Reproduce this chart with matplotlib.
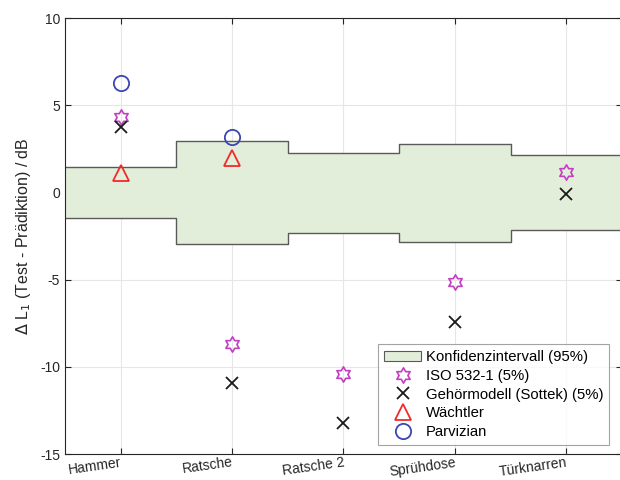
import numpy as np
import matplotlib
matplotlib.use("Agg")
import matplotlib.pyplot as plt
import matplotlib.transforms as mtransforms
from matplotlib.path import Path
from matplotlib.patches import Patch

plt.rcParams['font.family'] = ['Liberation Sans', 'DejaVu Sans']
plt.rcParams['axes.unicode_minus'] = False

categories = ["Hammer", "Ratsche", "Ratsche 2", "Sprühdose", "Türknarren"]
ci_upper = [1.45, 2.95, 2.25, 2.8, 2.15]
ci_lower = [-1.45, -2.95, -2.3, -2.83, -2.17]
iso532 = [4.3, -8.7, -10.4, -5.15, 1.15]
sottek = [3.75, -10.9, -13.2, -7.4, -0.1]
waechtler = [1.1, 2.0, np.nan, np.nan, np.nan]
parvizian = [6.25, 3.15, np.nan, np.nan, np.nan]

# six-pointed star (hexagram) marker
r_in = 1 / np.sqrt(3)
ang = np.deg2rad(90 + 30 * np.arange(12))
rad = np.where(np.arange(12) % 2 == 0, 1.0, r_in)
verts = np.column_stack([rad * np.cos(ang), rad * np.sin(ang)])
verts = np.vstack([verts, verts[:1]])
hexagram = Path(verts, [Path.MOVETO] + [Path.LINETO] * 11 + [Path.CLOSEPOLY])

x = np.arange(1, len(categories) + 1)

fig = plt.figure(figsize=(6.2, 4.8), dpi=100)
ax = fig.add_axes([0.105, 0.054, 0.898, 0.9085])

# confidence band as steps centred on each category
edges = np.concatenate([[0.5], x + 0.5])
xs = np.repeat(edges, 2)[1:-1]
up = np.repeat(ci_upper, 2)
lo = np.repeat(ci_lower, 2)
ax.fill_between(xs, lo, up, facecolor='#e2eeda', edgecolor='none', zorder=1)
ax.plot(xs, up, color='#5a5a5a', lw=1.0, zorder=2)
ax.plot(xs, lo, color='#5a5a5a', lw=1.0, zorder=2)

ax.plot(x, iso532, linestyle='none', marker=hexagram, ms=11, mfc='none',
        mec='#c23fc2', mew=1.2, zorder=3)
ax.plot(x, sottek, linestyle='none', marker='x', ms=9, color='#1a1a1a',
        mew=1.3, zorder=3)
ax.plot(x, waechtler, linestyle='none', marker='^', ms=11, mfc='none',
        mec='#f02a2a', mew=1.3, zorder=3)
ax.plot(x, parvizian, linestyle='none', marker='o', ms=11, mfc='none',
        mec='#3a46b4', mew=1.3, zorder=3)

ax.set_xlim(0.5, 5.5)
ax.set_ylim(-15, 10)
ax.set_yticks([-15, -10, -5, 0, 5, 10])
ax.set_xticks(x)
ax.set_xticklabels(categories, rotation=8, ha='right', va='top',
                   rotation_mode='anchor')
shift = mtransforms.ScaledTranslation(-6 / 100, 0, fig.dpi_scale_trans)
for lbl in ax.get_xticklabels():
    lbl.set_transform(lbl.get_transform() + shift)
ax.grid(True, color='#e6e6e6', lw=0.8, zorder=0)
ax.set_axisbelow(True)
ax.tick_params(direction='in', length=4, top=True, right=True,
               labelsize=10, colors='#262626', width=0.8)
ax.tick_params(axis='x', pad=1)
for s in ax.spines.values():
    s.set_color('#262626')
    s.set_linewidth(0.8)

ax.set_ylabel(r'$\Delta$ L$_1$ (Test - Prädiktion) / dB', fontsize=11.5,
              color='#262626', labelpad=5)

handles = [
    Patch(facecolor='#e2eeda', edgecolor='#5a5a5a', lw=0.8),
    plt.Line2D([], [], linestyle='none', marker=hexagram, ms=11, mfc='none',
               mec='#c23fc2', mew=1.2),
    plt.Line2D([], [], linestyle='none', marker='x', ms=9, color='#1a1a1a',
               mew=1.3),
    plt.Line2D([], [], linestyle='none', marker='^', ms=11, mfc='none',
               mec='#f02a2a', mew=1.3),
    plt.Line2D([], [], linestyle='none', marker='o', ms=11, mfc='none',
               mec='#3a46b4', mew=1.3),
]
labels = ["Konfidenzintervall (95%)", "ISO 532-1 (5%)",
          "Gehörmodell (Sottek) (5%)", "Wächtler", "Parvizian"]
leg = ax.legend(handles, labels, loc='lower left',
                bbox_to_anchor=(378 / 620, 35 / 480), bbox_transform=fig.transFigure,
                fontsize=10.7, frameon=True, fancybox=False, handlelength=2.5,
                handletextpad=0.3, labelspacing=0.32, borderpad=0.4,
                borderaxespad=0)
leg.get_frame().set_edgecolor('#8c8c8c')
leg.get_frame().set_linewidth(0.8)

fig.savefig('out.png', dpi=100)
